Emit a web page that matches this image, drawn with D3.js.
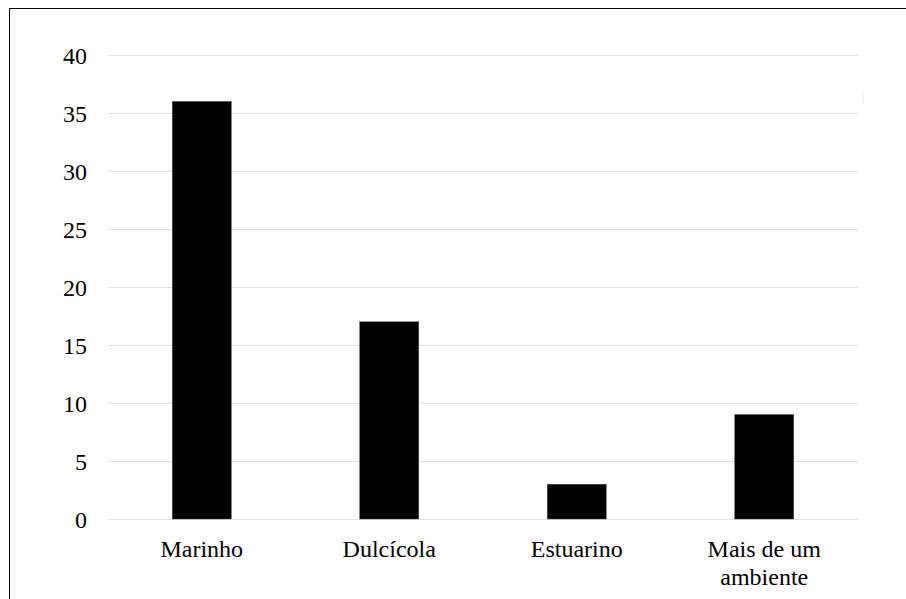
<!DOCTYPE html>
<html><head><meta charset="utf-8">
<script src="https://cdn.jsdelivr.net/npm/d3@7"></script>
<style>html,body{margin:0;padding:0;background:#fff;}svg{display:block;}</style>
</head><body>
<svg id="c" width="906" height="599"></svg>
<script>
const categories = ["Marinho", "Dulcícola", "Estuarino", "Mais de um ambiente"];
const categoryLines = [["Marinho"], ["Dulcícola"], ["Estuarino"], ["Mais de um", "ambiente"]];
const values = [36, 17, 3, 9];
const yTicks = [0, 5, 10, 15, 20, 25, 30, 35, 40];

const FONT = '"Liberation Serif"';
const svg = d3.select("#c");
// frame
svg.append("path").attr("d", "M9.5,599 L9.5,8.5 L906,8.5").attr("fill", "none").attr("stroke", "#000").attr("stroke-width", 1);
svg.append("line").attr("x1", 863.5).attr("x2", 863.5).attr("y1", 92).attr("y2", 103).attr("stroke", "#eee");

const x = d3.scaleBand().domain(categories).range([108, 858]).paddingInner(0.685).paddingOuter(0.3425);
const y = d3.scaleLinear().domain([0, 40]).range([519, 55]);

// gridlines
svg.append("g").selectAll("line").data(yTicks).join("line")
  .attr("x1", 108).attr("x2", 858)
  .attr("y1", d => Math.round(y(d)) + 0.5).attr("y2", d => Math.round(y(d)) + 0.5)
  .attr("stroke", "#e3e3e3").attr("stroke-width", 1);

// y axis labels
const yAxis = d3.axisLeft(y).tickValues(yTicks).tickSize(0).tickPadding(0);
const ga = svg.append("g").attr("transform", "translate(87,0)").call(yAxis);
ga.select(".domain").remove();
ga.selectAll("text").style("font-family", FONT).style("font-size", "24px").attr("fill", "#000").attr("dy", "0.34em");

// bars
svg.append("g").selectAll("rect").data(values).join("rect")
  .attr("x", (d, i) => x(categories[i]))
  .attr("width", x.bandwidth())
  .attr("y", d => y(d))
  .attr("height", d => y(0) - y(d))
  .attr("fill", "#000").attr("stroke", "#555").attr("stroke-width", 0.5);

// category labels
const gl = svg.append("g");
categories.forEach((c, i) => {
  const t = gl.append("text").attr("text-anchor", "middle")
    .style("font-family", FONT).style("font-size", "24px").attr("fill", "#000");
  categoryLines[i].forEach((ln, j) => {
    t.append("tspan").attr("x", x(c) + x.bandwidth() / 2).attr("y", 557 + j * 28).text(ln);
  });
});
</script>
</body></html>
